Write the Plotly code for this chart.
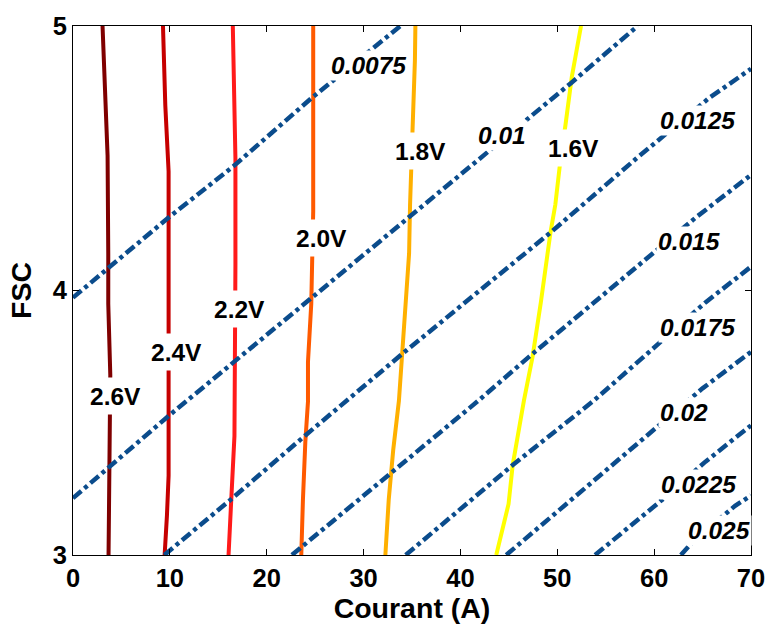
import plotly.graph_objects as go

# ---------------- data ----------------
# Iso-voltage curves (Courant A on x, FSC on y)
volt_names = ["2.6V", "2.4V", "2.2V", "2.0V", "1.8V", "1.6V"]
v26_x = [3.05, 3.4, 3.57, 3.64, 3.64, 3.85, 3.75, 3.67]
v26_y = [5.0, 4.7, 4.51, 4.14, 3.95, 3.68, 3.4, 3.0]
v24_x = [9.29, 9.53, 9.87, 9.87, 9.87, 9.87, 9.7, 9.46]
v24_y = [5.0, 4.7, 4.45, 4.0, 3.6, 3.3, 3.15, 3.0]
v22_x = [16.5, 16.7, 16.77, 16.77, 16.67, 16.67, 16.3, 16.06]
v22_y = [5.0, 4.7, 4.5, 4.1, 3.75, 3.45, 3.18, 3.0]
v20_x = [24.8, 24.8, 24.8, 24.6, 24.4, 24.26, 24.26, 23.99, 23.74, 23.57]
v20_y = [5.0, 4.6, 4.3, 3.95, 3.8, 3.73, 3.58, 3.43, 3.21, 3.0]
v18_x = [35.35, 35.3, 35.05, 34.9, 34.8, 34.7, 34.36, 33.95, 33.65, 33.06, 32.6, 32.25]
v18_y = [5.0, 4.87, 4.6, 4.47, 4.325, 4.14, 3.953, 3.77, 3.583, 3.397, 3.21, 3.0]
v16_x = [52.45, 51.5, 50.86, 50.3, 49.8, 49.3, 48.3, 47.45, 46.55, 45.9, 45.4, 44.97, 43.7]
v16_y = [5.0, 4.808, 4.63, 4.485, 4.325, 4.22, 3.955, 3.75, 3.583, 3.434, 3.341, 3.193, 3.0]
volt_label_x = [4.43, 10.71, 17.2, 25.7, 35.9, 51.7]
volt_label_y = [3.60, 3.768, 3.93, 4.20, 4.526, 4.54]

# Iso-lines of the second quantity (dash-dot)
iso_names = ["0.0075", "0.01", "0.0125", "0.015", "0.0175", "0.02", "0.0225", "0.025"]
iA_x = [0.0, 9.87, 16.7, 24.8, 33.8]
iA_y = [3.973, 4.276, 4.474, 4.733, 5.0]
iB_x = [0.0, 9.87, 24.66, 34.7, 51.37, 58.3]
iB_y = [3.215, 3.526, 3.973, 4.276, 4.783, 5.0]
iC_x = [9.43, 16.33, 23.98, 33.85, 49.33, 58.16, 65.65, 70.0]
iC_y = [3.0, 3.211, 3.452, 3.756, 4.22, 4.499, 4.727, 4.838]
iD_x = [22.6, 33.0, 41.84, 47.1, 60.2, 64.3, 70.0]
iD_y = [3.0, 3.316, 3.583, 3.75, 4.152, 4.276, 4.437]
iE_x = [34.35, 45.4, 53.75, 60.7, 65.3, 70.0]
iE_y = [3.0, 3.34, 3.583, 3.806, 3.955, 4.09]
iF_x = [44.73, 60.2, 65.0, 70.0]
iF_y = [3.0, 3.483, 3.63, 3.768]
iG_x = [53.9, 60.9, 65.3, 70.0]
iG_y = [3.0, 3.211, 3.353, 3.49]
iH_x = [62.76, 64.3, 68.36, 70.0]
iH_y = [3.0, 3.062, 3.186, 3.225]
iso_label_x = [30.5, 44.3, 64.45, 63.6, 64.45, 63.1, 64.6, 66.67]
iso_label_y = [4.852, 4.585, 4.641, 4.186, 3.861, 3.539, 3.266, 3.093]

x_ticks = [0, 10, 20, 30, 40, 50, 60, 70]
y_ticks = [3, 4, 5]

# ---------------- styling ----------------
volt_colors = ["#7f0000", "#c60000", "#ff1a1a", "#ff5a00", "#ffb000", "#ffff00"]
iso_color = "#0b4c8c"
FONT = "Liberation Sans, Arial, sans-serif"

volt_x = [v26_x, v24_x, v22_x, v20_x, v18_x, v16_x]
volt_y = [v26_y, v24_y, v22_y, v20_y, v18_y, v16_y]
iso_x = [iA_x, iB_x, iC_x, iD_x, iE_x, iF_x, iG_x, iH_x]
iso_y = [iA_y, iB_y, iC_y, iD_y, iE_y, iF_y, iG_y, iH_y]

fig = go.Figure()
for xs, ys, c, n in zip(volt_x, volt_y, volt_colors, volt_names):
    fig.add_trace(go.Scatter(x=xs, y=ys, mode="lines", name=n,
                             line=dict(color=c, width=4), hoverinfo="skip"))
for xs, ys, n in zip(iso_x, iso_y, iso_names):
    fig.add_trace(go.Scatter(x=xs, y=ys, mode="lines", name=n,
                             line=dict(color=iso_color, width=4.5,
                                       dash="11px,4px,4px,4px"),
                             hoverinfo="skip"))

annotations = []
for lx, ly, t in zip(volt_label_x, volt_label_y, volt_names):
    annotations.append(dict(x=lx, y=ly, xref="x", yref="y", text=t,
                            showarrow=False, bgcolor="white", borderpad=0,
                            height=36,
                            font=dict(family=FONT, size=24.5, color="black",
                                      weight="bold")))
for lx, ly, t in zip(iso_label_x, iso_label_y, iso_names):
    annotations.append(dict(x=lx, y=ly, xref="x", yref="y", text=t,
                            showarrow=False, bgcolor="white", borderpad=1,
                            font=dict(family=FONT, size=24.5, color="black",
                                      weight="bold", style="italic")))

fig.update_layout(
    width=777, height=630,
    margin=dict(l=73, r=18, t=18, b=73),
    paper_bgcolor="white", plot_bgcolor="white",
    showlegend=False,
    annotations=annotations,
    font=dict(family=FONT, color="black"),
)
fig.update_xaxes(range=[0, 70], tickvals=x_ticks, ticks="inside", ticklen=6,
                 tickcolor="black", showline=True, linecolor="black",
                 linewidth=1, mirror="ticks", showgrid=False, zeroline=False,
                 tickfont=dict(family=FONT, size=25.5, weight="bold"),
                 title=dict(text="Courant (A)", standoff=6,
                            font=dict(family=FONT, size=28.5, weight="bold")))
fig.update_yaxes(range=[3, 5], tickvals=y_ticks, ticks="inside", ticklen=6,
                 tickcolor="black", showline=True, linecolor="black",
                 linewidth=1, mirror="ticks", showgrid=False, zeroline=False,
                 tickfont=dict(family=FONT, size=25.5, weight="bold"),
                 title=dict(text="FSC", standoff=12,
                            font=dict(family=FONT, size=28.5, weight="bold")))

fig.write_html("out.html")
